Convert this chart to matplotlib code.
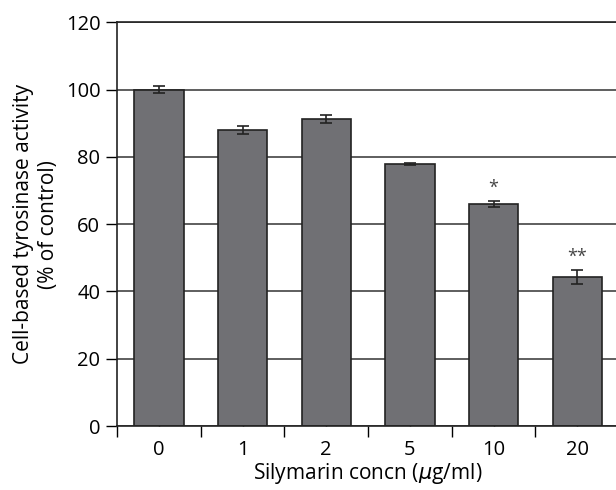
import numpy as np
import matplotlib
matplotlib.use("Agg")
import matplotlib.pyplot as plt

plt.rcParams['font.family'] = ['Open Sans', 'DejaVu Sans']

# data
concn_labels = ['0', '1', '2', '5', '10', '20']
activity = [100.0, 88.0, 91.2, 78.0, 65.9, 44.3]
activity_err = [1.0, 1.2, 1.2, 0.3, 0.9, 2.0]
signif = ['', '', '', '', '*', '**']

fig = plt.figure(figsize=(6.16, 4.9), dpi=100)
ax = fig.add_axes([0.19, 0.1306, 0.815, 0.824])

x = np.arange(len(concn_labels))
ax.set_axisbelow(True)
ax.yaxis.grid(True, color='#333333', linewidth=1.1)
ax.bar(x, activity, width=0.59, color='#707074', edgecolor='#222222', linewidth=1.2, zorder=2)
ax.errorbar(x, activity, yerr=activity_err, fmt='none', ecolor='#222222',
            elinewidth=1.2, capsize=4, capthick=1.2, zorder=3)

for xi, yi, ei, s in zip(x, activity, activity_err, signif):
    if s:
        ax.text(xi, yi + ei + 1.2, s, ha='center', va='bottom', fontsize=13, color='#444444')

ax.set_xlim(-0.5, 5.5)
ax.set_ylim(0, 120)
ax.set_yticks(np.arange(0, 121, 20))
ax.set_xticks(x)
ax.set_xticklabels(concn_labels)
ax.set_xticks(np.arange(-0.5, 5.6, 1), minor=True)
ax.tick_params(axis='x', which='major', direction='in', length=4, width=1, pad=10, labelsize=14.5)
ax.tick_params(axis='x', which='minor', direction='out', length=8, width=1)
ax.tick_params(axis='y', direction='out', length=8, width=1, pad=4, labelsize=14.5)

for sp in ax.spines.values():
    sp.set_linewidth(1.2)
    sp.set_color('#222222')

ax.set_xlabel(r'Silymarin concn ($\mu$g/ml)', fontsize=15, labelpad=1)
ax.set_ylabel('Cell-based tyrosinase activity\n(% of control)', fontsize=15,
              labelpad=5, linespacing=1.25)

plt.savefig('out.png', dpi=100)
